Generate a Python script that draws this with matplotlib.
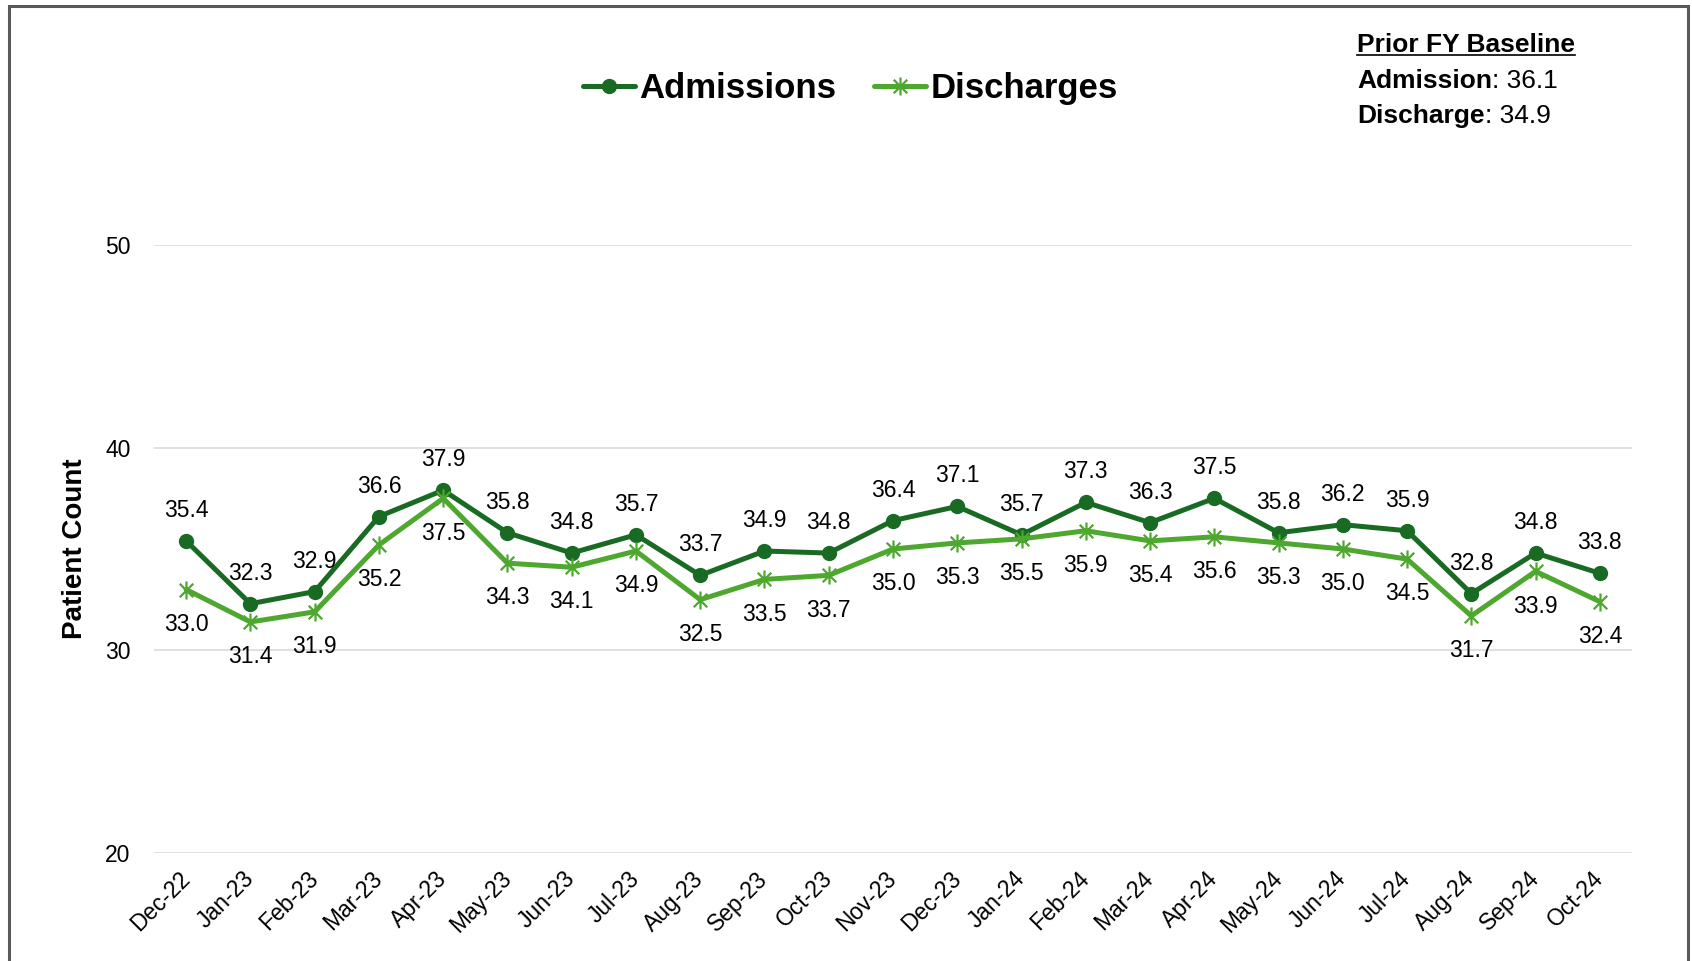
import matplotlib
matplotlib.use("Agg")
import matplotlib.pyplot as plt
from matplotlib.patches import Rectangle
from matplotlib.lines import Line2D
from matplotlib.path import Path

plt.rcParams['font.family'] = ['Liberation Sans', 'DejaVu Sans']

months = ["Dec-22", "Jan-23", "Feb-23", "Mar-23", "Apr-23", "May-23", "Jun-23", "Jul-23",
          "Aug-23", "Sep-23", "Oct-23", "Nov-23", "Dec-23", "Jan-24", "Feb-24", "Mar-24",
          "Apr-24", "May-24", "Jun-24", "Jul-24", "Aug-24", "Sep-24", "Oct-24"]
admissions = [35.4, 32.3, 32.9, 36.6, 37.9, 35.8, 34.8, 35.7, 33.7, 34.9, 34.8, 36.4,
              37.1, 35.7, 37.3, 36.3, 37.5, 35.8, 36.2, 35.9, 32.8, 34.8, 33.8]
discharges = [33.0, 31.4, 31.9, 35.2, 37.5, 34.3, 34.1, 34.9, 32.5, 33.5, 33.7, 35.0,
              35.3, 35.5, 35.9, 35.4, 35.6, 35.3, 35.0, 34.5, 31.7, 33.9, 32.4]
yticks = [20, 30, 40, 50]
baseline_adm = 36.1
baseline_dis = 34.9

dark_green = "#196B24"
light_green = "#4EA72E"

# excel style star: vertical bar plus an X
star = Path([(0, -1), (0, 1), (-0.75, -0.75), (0.75, 0.75), (-0.75, 0.75), (0.75, -0.75)],
            [Path.MOVETO, Path.LINETO, Path.MOVETO, Path.LINETO, Path.MOVETO, Path.LINETO])

W, H = 1692, 961
fig = plt.figure(figsize=(W / 100, H / 100), dpi=100)
ax = fig.add_axes([154 / W, 1 - 853 / H, (1632 - 154) / W, (853 - 245) / H])

x = list(range(len(months)))
ax.plot(x, admissions, color=dark_green, lw=3.6, marker='o', ms=10,
        label="Admissions", zorder=3, solid_capstyle='round')
ax.plot(x, discharges, color=light_green, lw=3.6, marker=star, ms=13, mew=1.6,
        mec=light_green, mfc='none', label="Discharges", zorder=4, solid_capstyle='round')

for xi, v in zip(x, admissions):
    ax.annotate(f"{v:.1f}", (xi, v), xytext=(0, 22), textcoords='offset points',
                ha='center', va='center', fontsize=16.5, color='black')
for xi, v in zip(x, discharges):
    ax.annotate(f"{v:.1f}", (xi, v), xytext=(0, -25), textcoords='offset points',
                ha='center', va='center', fontsize=16.5, color='black')

ax.set_xlim(-0.5, len(months) - 0.5)
ax.set_ylim(20, 50)
ax.set_yticks(yticks)
ax.grid(axis='y', color='#D9D9D9', lw=1.1)
ax.set_axisbelow(True)
for s in ax.spines.values():
    s.set_visible(False)
ax.tick_params(axis='both', length=0, labelsize=16.5)
ax.tick_params(axis='y', pad=17)
ax.tick_params(axis='x', pad=16)
ax.set_xticks(x)
ax.set_xticklabels(months, rotation=45, ha='right', va='center', rotation_mode='anchor')
ax.set_ylabel("Patient Count", fontsize=20, fontweight='bold', labelpad=12)

fig.legend(loc='center', bbox_to_anchor=(0.5025, 0.908), ncol=2, frameon=False,
           prop={'weight': 'bold', 'size': 25}, handlelength=1.5, handletextpad=0.12,
           columnspacing=1.1)

# baseline box in the top right
tx = 1357 / W
t1 = fig.text(tx, 1 - 52 / H, "Prior FY Baseline", fontsize=19, fontweight='bold',
              va='baseline', ha='left')
t2 = fig.text(tx, 1 - 88 / H, "Admission", fontsize=19, fontweight='bold',
              va='baseline', ha='left')
t3 = fig.text(tx, 1 - 123 / H, "Discharge", fontsize=19, fontweight='bold',
              va='baseline', ha='left')
fig.canvas.draw()
ax.annotate(f": {baseline_adm:.1f}", xy=(1, 0), xycoords=t2, va='bottom', ha='left',
            fontsize=19, annotation_clip=False)
ax.annotate(f": {baseline_dis:.1f}", xy=(1, 0), xycoords=t3, va='bottom', ha='left',
            fontsize=19, annotation_clip=False)
bb = t1.get_window_extent(fig.canvas.get_renderer())
uy = 1 - 55 / H
fig.add_artist(Line2D([bb.x0 / W, bb.x1 / W], [uy, uy], color='black', lw=1.2,
                      transform=fig.transFigure))

fig.add_artist(Rectangle((9 / W, -0.05), (1688 - 9) / W, 1.05 - 6 / H, fill=False,
                         edgecolor='#595959', lw=2.2, transform=fig.transFigure))

fig.savefig("out.png", dpi=100)
